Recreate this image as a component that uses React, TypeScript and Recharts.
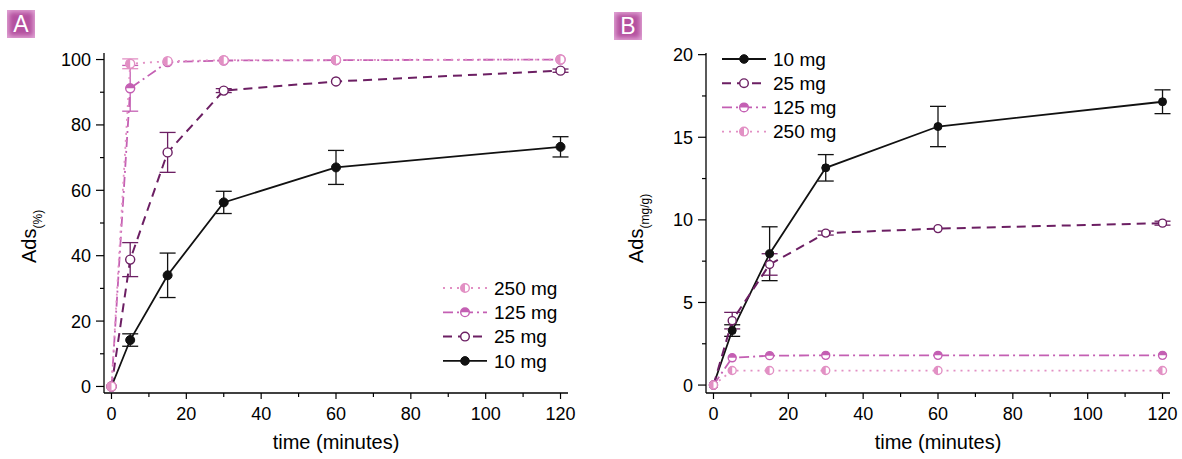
import { LineChart, Line, XAxis, YAxis, ErrorBar, Label } from 'recharts';

const times = [0, 5, 15, 30, 60, 120];
const seriesNames = ['10 mg', '25 mg', '125 mg', '250 mg'];

// panel A: adsorption (%)
const pct10 = [0, 14.2, 34, 56.3, 67, 73.3];
const pct10Err = [null, 1.9, 6.8, 3.4, 5.2, 3.1];
const pct25 = [0, 38.8, 71.6, 90.5, 93.3, 96.6];
const pct25Err = [null, 5.2, 6.1, 0.6, null, 0.5];
const pct125 = [0, 91.2, 99.2, 99.7, 99.8, 100];
const pct125Err = [null, 7, null, null, null, null];
const pct250 = [0, 98.7, 99.5, 99.8, 99.9, 100];
const pct250Err = [null, 1.5, null, null, null, null];

// panel B: adsorption (mg/g)
const mg10 = [0, 3.3, 7.95, 13.15, 15.65, 17.15];
const mg10Err = [null, 0.35, 1.63, 0.8, 1.22, 0.72];
const mg25 = [0, 3.9, 7.3, 9.2, 9.47, 9.8];
const mg25Err = [null, 0.5, 0.65, 0.12, null, 0.12];
const mg125 = [0, 1.65, 1.78, 1.8, 1.8, 1.8];
const mg250 = [0, 0.88, 0.88, 0.88, 0.88, 0.88];

const xTicks = [0, 10, 20, 30, 40, 50, 60, 70, 80, 90, 100, 110, 120];
const pctTicks = [0, 10, 20, 30, 40, 50, 60, 70, 80, 90, 100];
const mgTicks = [0, 2.5, 5, 7.5, 10, 12.5, 15, 17.5, 20];

const FONT = '"Liberation Sans", Arial, Helvetica, sans-serif';

const look: Record<string, { color: string; dash?: string; width: number; marker: string }> = {
  '10 mg': { color: '#111111', width: 1.8, marker: 'filled' },
  '25 mg': { color: '#6c1f63', dash: '9 6', width: 2, marker: 'open' },
  '125 mg': { color: '#c45fb3', dash: '10 4 2 4', width: 1.8, marker: 'halfTop' },
  '250 mg': { color: '#e290c4', dash: '2 5', width: 1.8, marker: 'halfLeft' },
};

function Marker({ cx, cy, r, kind, color }: any) {
  if (cx == null || cy == null) return null;
  if (kind === 'filled') return <circle cx={cx} cy={cy} r={r} fill={color} stroke={color} />;
  if (kind === 'open') return <circle cx={cx} cy={cy} r={r} fill="#fff" stroke={color} strokeWidth={1.4} />;
  const d =
    kind === 'halfTop'
      ? `M${cx - r},${cy} A${r},${r} 0 0 1 ${cx + r},${cy} Z`
      : `M${cx},${cy - r} A${r},${r} 0 0 0 ${cx},${cy + r} Z`;
  return (
    <g>
      <circle cx={cx} cy={cy} r={r} fill="#fff" stroke={color} strokeWidth={1.4} />
      <path d={d} fill={color} />
    </g>
  );
}

function XTick({ x, y, payload }: any) {
  const major = payload.value % 20 === 0;
  return (
    <g>
      <line x1={x} x2={x} y1={y} y2={y + (major ? 6 : 4)} stroke="#000" strokeWidth={1.2} />
      {major && (
        <text x={x} y={y + 27} textAnchor="middle" fontSize={18} fontFamily={FONT} fill="#000">
          {payload.value}
        </text>
      )}
    </g>
  );
}

function makeYTick(step: number) {
  return function YTick({ x, y, payload }: any) {
    const major = payload.value % step === 0;
    return (
      <g>
        <line x1={x - (major ? 8 : 4)} x2={x} y1={y} y2={y} stroke="#000" strokeWidth={1.2} />
        {major && (
          <text x={x - 13} y={y} dy="0.36em" textAnchor="end" fontSize={18} fontFamily={FONT} fill="#000">
            {payload.value}
          </text>
        )}
      </g>
    );
  };
}

function Badge({ letter, left, top }: any) {
  return (
    <div
      style={{
        position: 'absolute',
        left,
        top,
        width: 28,
        height: 28,
        background: '#b4519f',
        boxShadow: 'inset 0 0 5px 2px #e2a6d6',
        color: '#fff',
        fontFamily: FONT,
        fontSize: 23,
        lineHeight: '28px',
        textAlign: 'center',
      }}
    >
      {letter}
    </div>
  );
}

function LegendBox({ left, top, order, rowGap, width }: any) {
  return (
    <svg style={{ position: 'absolute', left, top }} width={width} height={rowGap * order.length + 10}>
      {order.map((name: string, i: number) => {
        const s = look[name];
        const y = 12 + i * rowGap;
        return (
          <g key={name}>
            <line x1={2} x2={46} y1={y} y2={y} stroke={s.color} strokeWidth={s.width} strokeDasharray={s.dash} />
            <Marker cx={24} cy={y} r={4.3} kind={s.marker} color={s.color} />
            <text x={53} y={y} dy="0.36em" fontSize={19} fontFamily={FONT} fill="#000">
              {name}
            </text>
          </g>
        );
      })}
    </svg>
  );
}

function Panel({ data, left, width, marginLeft, marginRight, yDomain, yTicks, yStep, yLabel, ySub, labelX, r }: any) {
  const keys = ['s10', 's25', 's125', 's250'];
  return (
    <div style={{ position: 'absolute', left, top: 0 }}>
      <LineChart
        width={width}
        height={459}
        data={data}
        margin={{ top: 53, right: marginRight, bottom: 36, left: marginLeft }}
      >
        <XAxis
          dataKey="t"
          type="number"
          domain={[-2, 122]}
          ticks={xTicks}
          allowDataOverflow
          height={30}
          tickSize={0}
          tickMargin={0}
          tickLine={false}
          axisLine={{ stroke: '#000', strokeWidth: 1.3 }}
          tick={(p: any) => <XTick {...p} />}
        >
          <Label
            content={({ viewBox }: any) => (
              <text
                x={viewBox.x + viewBox.width / 2}
                y={viewBox.y + 56}
                textAnchor="middle"
                fontSize={20}
                fontFamily={FONT}
                fill="#000"
              >
                time (minutes)
              </text>
            )}
          />
        </XAxis>
        <YAxis
          type="number"
          domain={yDomain}
          ticks={yTicks}
          allowDataOverflow
          width={40}
          tickSize={0}
          tickMargin={0}
          tickLine={false}
          axisLine={{ stroke: '#000', strokeWidth: 1.3 }}
          tick={makeYTick(yStep)}
        >
          <Label
            content={() => (
              <text transform={`translate(${labelX},263) rotate(-90)`} fontSize={20} fontFamily={FONT} fill="#000">
                {yLabel}
                <tspan fontSize={12} dy={6}>
                  {ySub}
                </tspan>
              </text>
            )}
          />
        </YAxis>
        {seriesNames.map((name, i) => {
          const s = look[name];
          const k = keys[i];
          return (
            <Line
              key={name}
              dataKey={k}
              type="linear"
              stroke={s.color}
              strokeWidth={s.width}
              strokeDasharray={s.dash}
              isAnimationActive={false}
              dot={(p: any) => <Marker key={`${k}-${p.index}`} cx={p.cx} cy={p.cy} r={r} kind={s.marker} color={s.color} />}
              activeDot={false}
            >
              <ErrorBar dataKey={`${k}e`} direction="y" width={8} stroke={s.color} strokeWidth={1.3} />
            </Line>
          );
        })}
      </LineChart>
    </div>
  );
}

const dataA = times.map((t, i) => ({
  t,
  s10: pct10[i],
  s10e: pct10Err[i],
  s25: pct25[i],
  s25e: pct25Err[i],
  s125: pct125[i],
  s125e: pct125Err[i],
  s250: pct250[i],
  s250e: pct250Err[i],
}));

const dataB = times.map((t, i) => ({
  t,
  s10: mg10[i],
  s10e: mg10Err[i],
  s25: mg25[i],
  s25e: mg25Err[i],
  s125: mg125[i],
  s125e: null,
  s250: mg250[i],
  s250e: null,
}));

export default function App() {
  return (
    <div style={{ position: 'absolute', left: 0, top: 0, width: 1182, height: 459, background: '#fff', overflow: 'hidden' }}>
      <Panel
        data={dataA}
        left={0}
        width={600}
        marginLeft={64}
        marginRight={32}
        yDomain={[-2, 102]}
        yTicks={pctTicks}
        yStep={20}
        yLabel="Ads"
        ySub="(%)"
        labelX={36}
        r={4.5}
      />
      <Panel
        data={dataB}
        left={600}
        width={582}
        marginLeft={66}
        marginRight={12}
        yDomain={[-0.48, 20.1]}
        yTicks={mgTicks}
        yStep={5}
        yLabel="Ads"
        ySub="(mg/g)"
        labelX={43}
        r={4}
      />
      <LegendBox left={441} top={276} order={['250 mg', '125 mg', '25 mg', '10 mg']} rowGap={24.3} width={140} />
      <LegendBox left={720} top={47} order={['10 mg', '25 mg', '125 mg', '250 mg']} rowGap={24.2} width={140} />
      <Badge letter="A" left={7} top={10} />
      <Badge letter="B" left={614} top={12} />
    </div>
  );
}
